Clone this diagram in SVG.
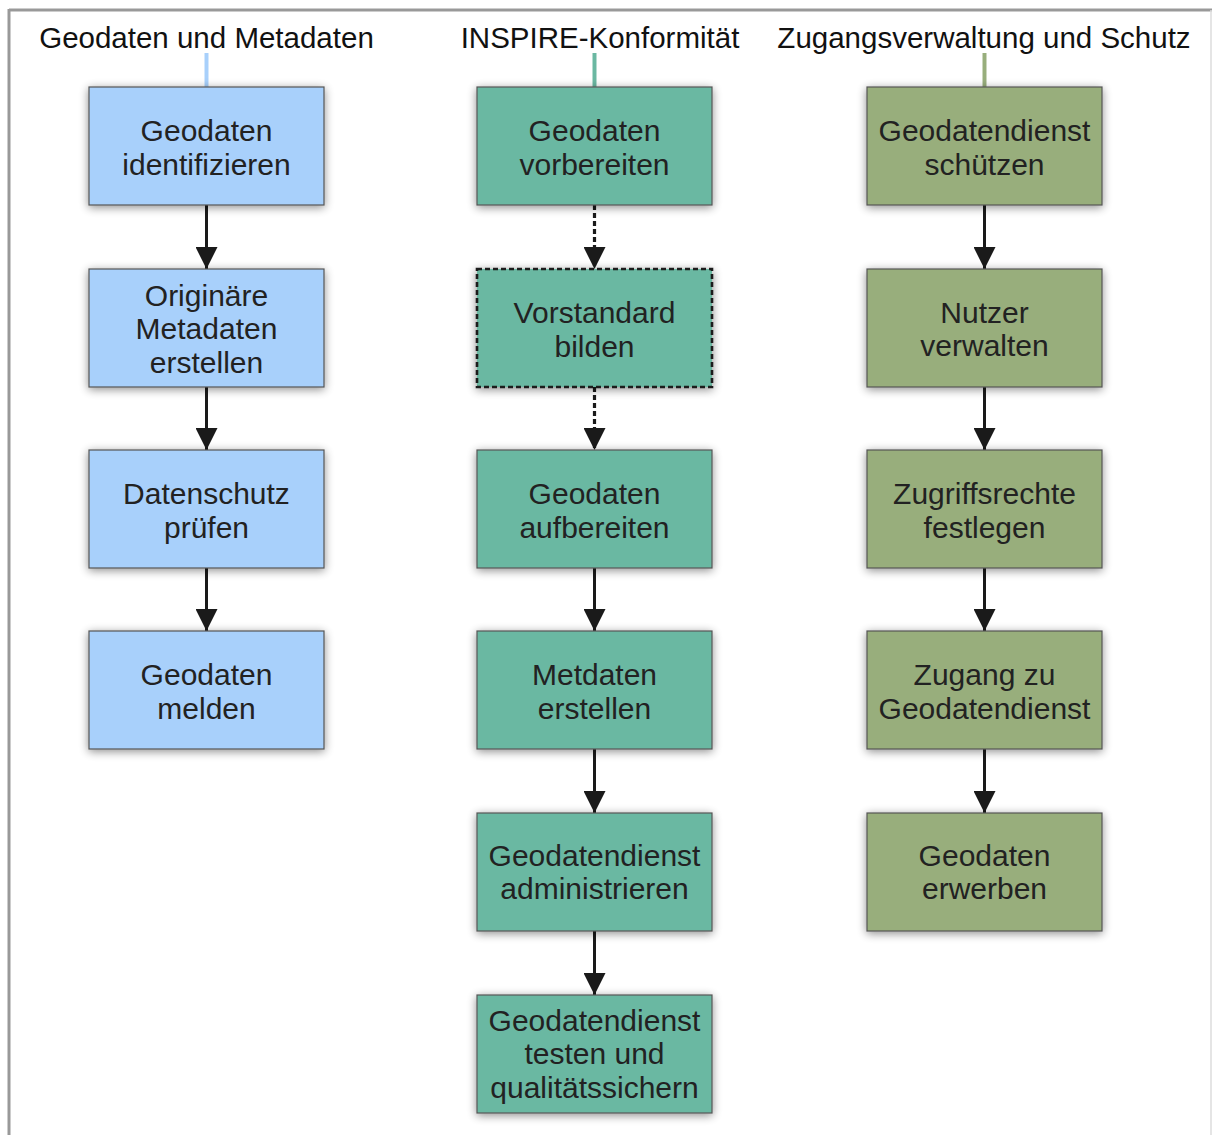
<svg xmlns="http://www.w3.org/2000/svg" width="1212" height="1135" viewBox="0 0 1212 1135">
<style>
.hdr{font-family:"Liberation Sans",Arial,sans-serif;font-size:29.5px;fill:#111;text-anchor:middle}
.lbl{font-family:"Liberation Sans",Arial,sans-serif;font-size:30px;fill:#222;text-anchor:middle}
.box{stroke:#555;stroke-width:1.2;filter:url(#sh)}
.b1{fill:#a8d0fb}
.b2{fill:#6bb8a2}
.b3{fill:#98ae7c}
.dash{stroke:#1a1a1a;stroke-width:2.6;stroke-dasharray:5 3;fill:#6bb8a2;filter:url(#sh)}
.con{stroke:#1a1a1a;stroke-width:3;fill:none}
.cond{stroke:#1a1a1a;stroke-width:3.2;fill:none;stroke-dasharray:5 3}
</style>
<defs>
<filter id="sh" x="-15%" y="-20%" width="130%" height="140%">
<feGaussianBlur in="SourceAlpha" stdDeviation="5"/>
<feOffset dx="0" dy="2" result="b"/>
<feComponentTransfer><feFuncA type="linear" slope="0.45"/></feComponentTransfer>
<feMerge><feMergeNode/><feMergeNode in="SourceGraphic"/></feMerge>
</filter>
<marker id="ah" markerWidth="22" markerHeight="22" refX="22" refY="11" orient="auto" markerUnits="userSpaceOnUse" viewBox="0 0 22 22">
<path d="M0,0 L22,11 L0,22 Z" fill="#1a1a1a"/>
</marker>
</defs>
<rect x="0" y="0" width="1212" height="1135" fill="#fff"/>
<g id="frame">
<line x1="9" y1="10" x2="1212" y2="10" stroke="#999" stroke-width="3"/>
<line x1="9" y1="9" x2="9" y2="1135" stroke="#999" stroke-width="3"/>
<line x1="1211" y1="10" x2="1211" y2="1135" stroke="#ddd" stroke-width="1.5"/>
</g>
<g id="headers">
<text class="hdr" x="206.5" y="48">Geodaten und Metadaten</text>
<text class="hdr" x="600" y="48">INSPIRE-Konformität</text>
<text class="hdr" x="984" y="48">Zugangsverwaltung und Schutz</text>
<line x1="206.5" y1="53" x2="206.5" y2="87" stroke="#a8d0fb" stroke-width="4"/>
<line x1="594.5" y1="53" x2="594.5" y2="87" stroke="#6bb8a2" stroke-width="4"/>
<line x1="984.5" y1="53" x2="984.5" y2="87" stroke="#98ae7c" stroke-width="4"/>
</g>
<g id="connectors">
<line class="con" x1="206.5" y1="205" x2="206.5" y2="269" marker-end="url(#ah)"/>
<line class="con" x1="206.5" y1="387" x2="206.5" y2="450" marker-end="url(#ah)"/>
<line class="con" x1="206.5" y1="568" x2="206.5" y2="631" marker-end="url(#ah)"/>
<line class="cond" x1="594.5" y1="205" x2="594.5" y2="269" marker-end="url(#ah)"/>
<line class="cond" x1="594.5" y1="387" x2="594.5" y2="450" marker-end="url(#ah)"/>
<line class="con" x1="594.5" y1="568" x2="594.5" y2="631" marker-end="url(#ah)"/>
<line class="con" x1="594.5" y1="749" x2="594.5" y2="813" marker-end="url(#ah)"/>
<line class="con" x1="594.5" y1="931" x2="594.5" y2="995" marker-end="url(#ah)"/>
<line class="con" x1="984.5" y1="205" x2="984.5" y2="269" marker-end="url(#ah)"/>
<line class="con" x1="984.5" y1="387" x2="984.5" y2="450" marker-end="url(#ah)"/>
<line class="con" x1="984.5" y1="568" x2="984.5" y2="631" marker-end="url(#ah)"/>
<line class="con" x1="984.5" y1="749" x2="984.5" y2="813" marker-end="url(#ah)"/>
</g>
<g id="n-geodaten-identifizieren"><rect class="box b1" x="89" y="87" width="235" height="118"/><text class="lbl" x="206.5" y="141">Geodaten</text><text class="lbl" x="206.5" y="175">identifizieren</text></g>
<g id="n-originaere-metadaten"><rect class="box b1" x="89" y="269" width="235" height="118"/><text class="lbl" x="206.5" y="306">Originäre</text><text class="lbl" x="206.5" y="339">Metadaten</text><text class="lbl" x="206.5" y="373">erstellen</text></g>
<g id="n-datenschutz"><rect class="box b1" x="89" y="450" width="235" height="118"/><text class="lbl" x="206.5" y="504">Datenschutz</text><text class="lbl" x="206.5" y="538">prüfen</text></g>
<g id="n-geodaten-melden"><rect class="box b1" x="89" y="631" width="235" height="118"/><text class="lbl" x="206.5" y="685">Geodaten</text><text class="lbl" x="206.5" y="719">melden</text></g>

<g id="n-geodaten-vorbereiten"><rect class="box b2" x="477" y="87" width="235" height="118"/><text class="lbl" x="594.5" y="141">Geodaten</text><text class="lbl" x="594.5" y="175">vorbereiten</text></g>
<g id="n-vorstandard"><rect class="dash" x="477" y="269" width="235" height="118"/><text class="lbl" x="594.5" y="323">Vorstandard</text><text class="lbl" x="594.5" y="357">bilden</text></g>
<g id="n-geodaten-aufbereiten"><rect class="box b2" x="477" y="450" width="235" height="118"/><text class="lbl" x="594.5" y="504">Geodaten</text><text class="lbl" x="594.5" y="538">aufbereiten</text></g>
<g id="n-metdaten"><rect class="box b2" x="477" y="631" width="235" height="118"/><text class="lbl" x="594.5" y="685">Metdaten</text><text class="lbl" x="594.5" y="719">erstellen</text></g>
<g id="n-gd-administrieren"><rect class="box b2" x="477" y="813" width="235" height="118"/><text class="lbl" x="594.5" y="866">Geodatendienst</text><text class="lbl" x="594.5" y="899">administrieren</text></g>
<g id="n-gd-testen"><rect class="box b2" x="477" y="995" width="235" height="118"/><text class="lbl" x="594.5" y="1031">Geodatendienst</text><text class="lbl" x="594.5" y="1064">testen und</text><text class="lbl" x="594.5" y="1098">qualitätssichern</text></g>

<g id="n-gd-schuetzen"><rect class="box b3" x="867" y="87" width="235" height="118"/><text class="lbl" x="984.5" y="141">Geodatendienst</text><text class="lbl" x="984.5" y="175">schützen</text></g>
<g id="n-nutzer"><rect class="box b3" x="867" y="269" width="235" height="118"/><text class="lbl" x="984.5" y="323">Nutzer</text><text class="lbl" x="984.5" y="356">verwalten</text></g>
<g id="n-zugriffsrechte"><rect class="box b3" x="867" y="450" width="235" height="118"/><text class="lbl" x="984.5" y="504">Zugriffsrechte</text><text class="lbl" x="984.5" y="538">festlegen</text></g>
<g id="n-zugang"><rect class="box b3" x="867" y="631" width="235" height="118"/><text class="lbl" x="984.5" y="685">Zugang zu</text><text class="lbl" x="984.5" y="719">Geodatendienst</text></g>
<g id="n-geodaten-erwerben"><rect class="box b3" x="867" y="813" width="235" height="118"/><text class="lbl" x="984.5" y="866">Geodaten</text><text class="lbl" x="984.5" y="899">erwerben</text></g>
</svg>
